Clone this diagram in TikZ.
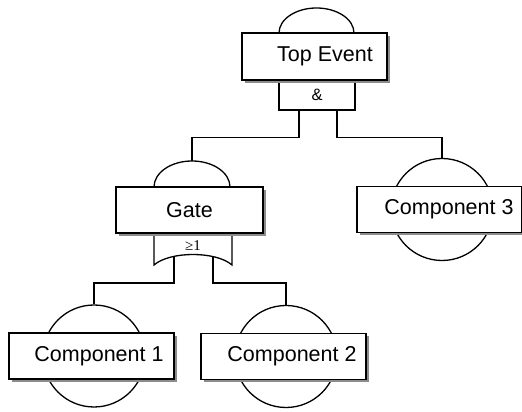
\documentclass[tikz,border=0pt]{standalone}
\usepackage{fontspec}
\setmainfont{Liberation Sans}
\newfontfamily\gatefont{Liberation Serif}

\tikzset{
  wire/.style = {line width=1.3pt},
  evtext/.style = {font=\fontsize{21.5}{24}\selectfont},
  evbox/.style = {draw, line width=1.3pt, fill=white, minimum height=46pt, inner sep=0pt,
    preaction={draw=none, fill=black!45, transform canvas={xshift=3pt, yshift=-3pt}}, evtext},
  basic/.style = {draw, circle, line width=1.3pt, minimum size=102pt, inner sep=0pt},
}

\begin{document}
\begin{tikzpicture}[x=1pt,y=1pt]
\useasboundingbox (0,0) rectangle (522,412);

% top event, and gate
\draw[wire] (279,379) arc[start angle=180, end angle=0, x radius=37.5, y radius=25];
\node[draw, wire, minimum width=76pt, minimum height=30pt, inner sep=0pt,
  font=\fontsize{16.5}{18}\selectfont] (and) at (317,317) {\&};
\node[evbox, minimum width=145pt, minimum height=47pt,
  label={[evtext, xshift=10.5pt]center:Top Event}] (top) at (314.5,355.5) {};

% intermediate gate, or gate
\draw[wire] (154,225) arc[start angle=180, end angle=0, x radius=38, y radius=26];
\coordinate (gdome) at (192,251);
\draw[wire] (154,179) -- (154,147) .. controls (170,161) and (216,161) .. (232,147) -- (232,179);
\coordinate (orL) at (174,155.5);
\coordinate (orR) at (213,155.5);
\node[evbox, minimum width=147pt] (gate) at (189.5,202) {Gate};
\node[font=\gatefont\fontsize{15}{17}\selectfont, inner sep=0pt] (orsym) at (193,166) {≥1};

% basic events
\node[basic] (c1) at (94,56) {};
\node[evbox, minimum width=165pt,
  label={[evtext, xshift=7.5pt]center:Component 1}] (comp1) at (91.5,56) {};
\node[basic] (c2) at (286,55.5) {};
\node[evbox, minimum width=165pt,
  label={[evtext, xshift=8.5pt]center:Component 2}] (comp2) at (283.5,55.5) {};
\node[basic] (c3) at (442,202.5) {};
\node[evbox, minimum width=165pt,
  label={[evtext, xshift=9.5pt]center:Component 3}] (comp3) at (439.5,202.5) {};

% connectors
\draw[wire] ([xshift=-18pt]and.south) -- ++(0,-27) -| (gdome);
\draw[wire] ([xshift=20pt]and.south) -- ++(0,-27) -| (c3.north);
\draw[wire] (orL) -- ++(0,-26.5) -| (c1.north);
\draw[wire] (orR) -- ++(0,-26.5) -| (c2.north);
\end{tikzpicture}
\end{document}
